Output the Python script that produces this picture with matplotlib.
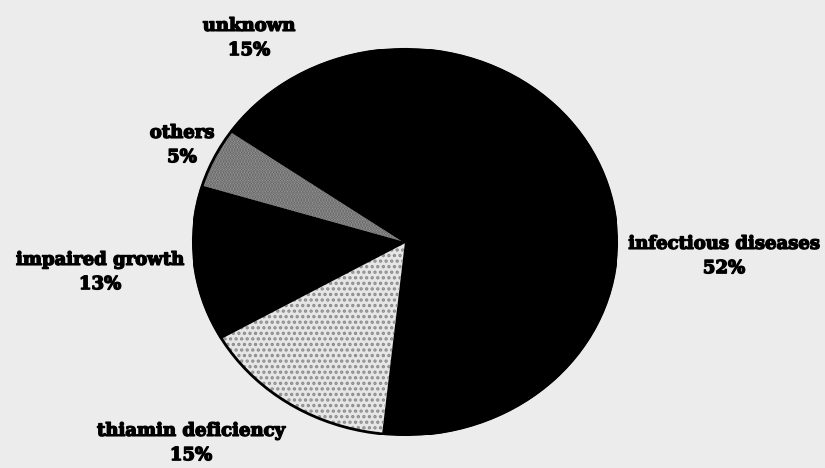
import matplotlib
matplotlib.use("Agg")
import matplotlib.pyplot as plt
import matplotlib.patches as mpatches
import matplotlib.patheffects as pe

categories = ["infectious diseases", "thiamin deficiency", "impaired growth", "others", "unknown"]
values = [52, 15, 13, 5, 15]
colors = ["#000000", "#e6e6e6", "#000000", "#a5a5a5", "#000000"]
hatches = [None, "...", None, "......", None]
hatch_colors = [None, "#8c8c8c", None, "#5a5a5a", None]

W, H = 825, 468
fig = plt.figure(figsize=(W / 100, H / 100), dpi=100)
fig.patch.set_facecolor("#ececec")

cx, cy, rx, ry = 405, 242, 212, 193
ax = fig.add_axes([(cx - rx) / W, (H - cy - ry) / H, 2 * rx / W, 2 * ry / H])
plt.rcParams["hatch.linewidth"] = 1.6
wedges, _ = ax.pie(values, colors=colors, startangle=91, counterclock=False,
                   wedgeprops=dict(edgecolor="black", linewidth=1.5))
for w, h, hc in zip(wedges, hatches, hatch_colors):
    if h:
        w.set_hatch(h)
        w.set_edgecolor(hc)
        w.set_linewidth(0)
ax.add_patch(mpatches.Circle((0, 0), 1, fill=False, edgecolor="black", linewidth=2))
ax.set_aspect("auto")
ax.set_xlim(-1, 1)
ax.set_ylim(-1, 1)
ax.axis("off")

label_pos = {
    "infectious diseases": (724, 256),
    "thiamin deficiency": (191, 443),
    "impaired growth": (100, 272),
    "others": (182, 145),
    "unknown": (249, 38),
}
for cat, v in zip(categories, values):
    x, y = label_pos[cat]
    fig.text(x / W, 1 - y / H, f"{cat}\n{v}%", ha="center", va="center",
             fontsize=13, fontweight="bold", family="DejaVu Serif",
             linespacing=1.45,
             path_effects=[pe.withStroke(linewidth=1.0, foreground="black")])

fig.savefig("out.png", dpi=100, facecolor=fig.get_facecolor())
